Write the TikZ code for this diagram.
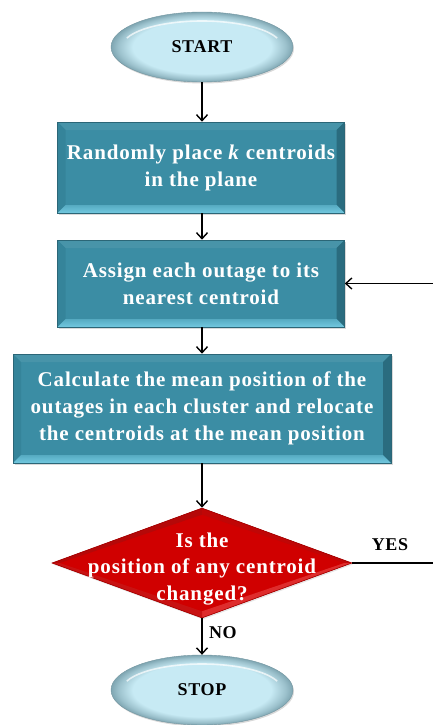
\documentclass[tikz,border=0pt]{standalone}
\usepackage{fontspec}
\setmainfont{Liberation Serif}
\newfontfamily\flowfont{Liberation Serif}[LetterSpace=4]
\usetikzlibrary{arrows.meta,shapes.geometric,shadows,calc}

% palette
\definecolor{tealmid}{HTML}{3B8DA4}
\definecolor{tealtop}{HTML}{4894A9}
\definecolor{tealleft}{HTML}{35849A}
\definecolor{tealright}{HTML}{2A6C7F}
\definecolor{teallight}{HTML}{72C8DF}
\definecolor{tealedge}{HTML}{2B6677}
\definecolor{ellin}{HTML}{C7EAF4}
\definecolor{ellrim}{HTML}{7FA6B2}
\definecolor{redmid}{HTML}{D00000}
\definecolor{redtl}{HTML}{B50808}
\definecolor{redtr}{HTML}{C00606}
\definecolor{redbr}{HTML}{DE2C2C}
\definecolor{redbl}{HTML}{C81212}
\definecolor{rededge}{HTML}{A00000}

% light oval with a darker rim
\pgfdeclareradialshading{ovalrim}{\pgfpoint{0bp}{0bp}}{%
  color(0bp)=(ellin); color(19bp)=(ellin); color(23bp)=(ellrim!60!ellin);
  color(25bp)=(ellrim); color(50bp)=(ellrim)}

\tikzset{
  flowline/.style={line width=1.4pt, -{Straight Barb[length=6pt,width=11pt,line width=1.4pt]}},
  terminal/.style={ellipse, minimum width=182pt, minimum height=70pt, inner sep=0pt,
    shading=ovalrim, draw=ellrim!90!black, line width=0.4pt,
    drop shadow={shadow xshift=1pt, shadow yshift=-1.5pt, opacity=0.3},
    font=\flowfont\bfseries\fontsize{18}{22}\selectfont, text=black},
  stepbox/.style={rectangle, inner sep=0pt, fill=tealmid, draw=tealedge, line width=0.6pt,
    text=white, align=center, font=\flowfont\bfseries\fontsize{21}{27}\selectfont,
    drop shadow={shadow xshift=1.5pt, shadow yshift=-1.5pt, opacity=0.3},
    path picture={
      \coordinate (bNW) at (path picture bounding box.north west);
      \coordinate (bNE) at (path picture bounding box.north east);
      \coordinate (bSW) at (path picture bounding box.south west);
      \coordinate (bSE) at (path picture bounding box.south east);
      \fill[tealtop] (bNW) -- (bNE) -- ([shift={(-8,8)}]bNE) -- ([shift={(8,8)}]bNW) -- cycle;
      \fill[tealleft] (bNW) -- ([shift={(8,8)}]bNW) -- ([shift={(8,-8)}]bSW) -- (bSW) -- cycle;
      \fill[tealright] (bNE) -- ([shift={(-8,8)}]bNE) -- ([shift={(-8,-8)}]bSE) -- (bSE) -- cycle;
      \shade[top color=tealmid!50!teallight, bottom color=teallight]
        (bSW) -- ([shift={(8,-8)}]bSW) -- ([shift={(-8,-8)}]bSE) -- (bSE) -- cycle;
    }},
  decision/.style={diamond, inner sep=0pt, minimum width=300pt, minimum height=110pt,
    fill=redmid, draw=rededge, line width=0.6pt,
    drop shadow={shadow xshift=1pt, shadow yshift=-1.5pt, opacity=0.2},
    path picture={
      \coordinate (pC) at (path picture bounding box.center);
      \coordinate (pN) at (path picture bounding box.north);
      \coordinate (pE) at (path picture bounding box.east);
      \coordinate (pS) at (path picture bounding box.south);
      \coordinate (pW) at (path picture bounding box.west);
      \coordinate (qN) at ($(pC)!0.88!(pN)$);
      \coordinate (qE) at ($(pC)!0.95!(pE)$);
      \coordinate (qS) at ($(pC)!0.88!(pS)$);
      \coordinate (qW) at ($(pC)!0.95!(pW)$);
      \fill[redtl] (pW) -- (pN) -- (qN) -- (qW) -- cycle;
      \fill[redtr] (pN) -- (pE) -- (qE) -- (qN) -- cycle;
      \fill[redbr] (pE) -- (pS) -- (qS) -- (qE) -- cycle;
      \fill[redbl] (pS) -- (pW) -- (qW) -- (qS) -- cycle;
    }},
  dectext/.style={text=white, align=center, font=\flowfont\bfseries\fontsize{21}{26.5}\selectfont},
  branch/.style={text=black, font=\flowfont\bfseries\fontsize{18}{22}\selectfont},
}

\begin{document}
\begin{tikzpicture}[x=1pt, y=-1pt]
  \useasboundingbox (0,0) rectangle (432,725);

  % nodes
  \node[terminal] (start) at (202,47) {START};
  \node[stepbox, minimum width=287pt, minimum height=91pt] (place) at (201,167.5)
    {Randomly place \textit{k} centroids\\in the plane};
  \node[stepbox, minimum width=287pt, minimum height=87pt] (assign) at (201,283.5)
    {Assign each outage to its\\nearest centroid};
  \node[stepbox, minimum width=378pt, minimum height=109pt] (mean) at (202,408.5)
    {Calculate the mean position of the\\outages in each cluster and relocate\\the centroids at the mean position};
  \node[decision] (dec) at (202,563) {};
  \node[dectext] (dectxt) at (202,569) {Is the\\position of any centroid\\changed?};
  \node[terminal] (stop) at (202,690) {STOP};

  % highlights on the ovals
  \foreach \o in {start,stop}{
    \draw[white, opacity=0.7, line width=1.6pt]
      ([shift={(200:80 and 26)}]\o.center) arc[start angle=200, end angle=340, x radius=80, y radius=26];
  }

  % connectors
  \draw[flowline] (start.south) -- (start.south |- place.north);
  \draw[flowline] (place.south -| start.south) -- (start.south |- assign.north);
  \draw[flowline] (assign.south -| start.south) -- (start.south |- mean.north);
  \draw[flowline] (mean.south) -- (dec.north);
  \draw[flowline] (dec.south) -- (stop.north) node[branch, pos=0.4, anchor=west, xshift=3pt] (nolbl) {NO};

  \coordinate (loopR) at (438,563);
  \draw[flowline] (dec.east) -- (loopR) |- (assign.east);
  \node[branch] (yeslbl) at (390,545) {YES};
\end{tikzpicture}
\end{document}
